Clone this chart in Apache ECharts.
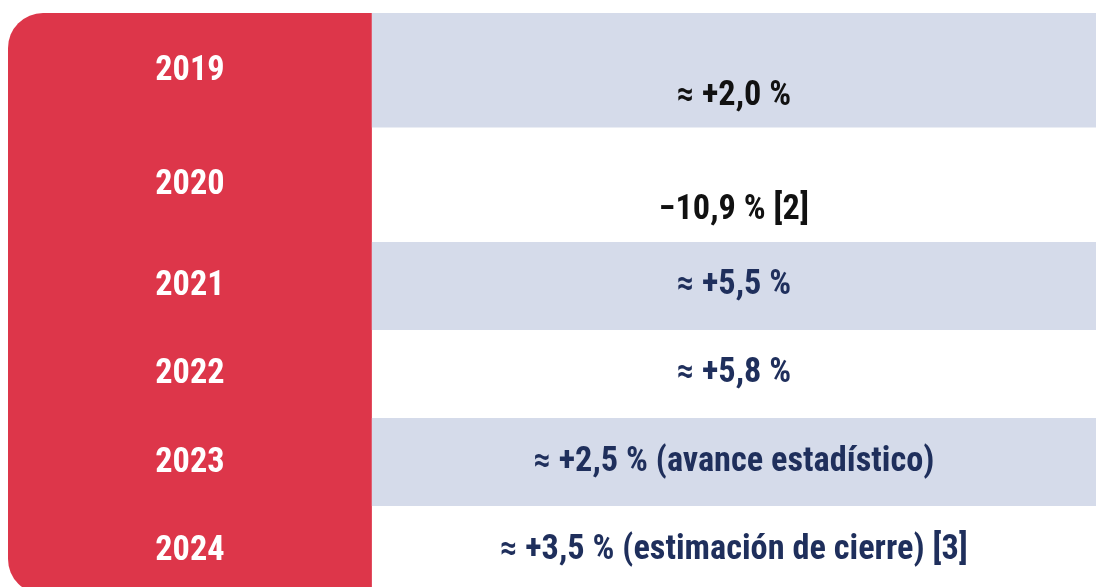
<!DOCTYPE html>
<html lang="es">
<head>
<meta charset="UTF-8">
<title>Crecimiento anual</title>
<script src="https://cdn.jsdelivr.net/npm/echarts@6/dist/echarts.min.js"></script>
<style>
  html, body { margin: 0; padding: 0; background: #fff; }
  #main { width: 1096px; height: 587px; }
</style>
</head>
<body>
<div id="main"></div>
<script>
// datos
var years = ['2019', '2020', '2021', '2022', '2023', '2024'];
var growth = [2.0, -10.9, 5.5, 5.8, 2.5, 3.5];
var approx = [true, false, true, true, true, true];
var notes = ['', '[2]', '', '', '(avance estadístico)', '(estimación de cierre) [3]'];

// layout / estilo
var rowWeight = [1.3, 1.3, 1, 1, 1, 1];
var valueShift = [26, 26, 0, 0, 0, 0];
var valueColor = ['#111111', '#111111', '#1f2f5c', '#1f2f5c', '#1f2f5c', '#1f2f5c'];
var FONT = "bold 34.3px 'Roboto Condensed', 'Liberation Sans Narrow', 'Arial Narrow', Roboto, sans-serif";

function fmt(i) {
  var v = growth[i];
  var s = (v < 0 ? '\u2212' : '+') + Math.abs(v).toFixed(1).replace('.', ',') + ' %';
  if (approx[i]) s = '\u2248 ' + s;
  if (notes[i]) s += ' ' + notes[i];
  return s;
}

var rows = [];
var acc = 0;
for (var i = 0; i < years.length; i++) {
  rows.push([i, acc, acc + rowWeight[i]]);
  acc += rowWeight[i];
}
var total = acc;

var chart = echarts.init(document.getElementById('main'));

chart.setOption({
  animation: false,
  // la ultima fila queda cortada por el borde inferior
  grid: { left: 8, right: 0, top: 13, height: 581, outerBoundsMode: 'none' },
  xAxis: { type: 'value', min: 0, max: 2.99, show: false },
  yAxis: { type: 'value', min: 0, max: total, inverse: true, show: false },
  series: [
    {
      // panel rojo de los años
      type: 'custom',
      z: 1,
      data: [[0, 0, total]],
      renderItem: function (params, api) {
        var p0 = api.coord([0, api.value(1)]);
        var p1 = api.coord([1, api.value(2)]);
        return {
          type: 'rect',
          shape: { x: p0[0], y: p0[1], width: p1[0] - p0[0], height: p1[1] - p0[1], r: [35, 0, 0, 35] },
          style: { fill: '#dd364a' }
        };
      }
    },
    {
      type: 'custom',
      z: 2,
      data: rows,
      renderItem: function (params, api) {
        var i = api.value(0);
        var a = api.coord([0, api.value(1)]);
        var b = api.coord([1, api.value(2)]);
        var c = api.coord([2.99, api.value(2)]);
        var yMid = (a[1] + b[1]) / 2;
        var kids = [];
        if (i % 2 === 0) {
          kids.push({
            type: 'rect',
            shape: { x: b[0], y: a[1], width: c[0] - b[0], height: b[1] - a[1] },
            style: { fill: '#d5dbea' }
          });
        }
        kids.push({
          type: 'text',
          style: {
            x: (a[0] + b[0]) / 2, y: yMid + 1,
            text: years[i], fill: '#ffffff', font: FONT,
            align: 'center', verticalAlign: 'middle'
          }
        });
        kids.push({
          type: 'text',
          style: {
            x: (b[0] + c[0]) / 2, y: yMid + valueShift[i],
            text: fmt(i), fill: valueColor[i], font: FONT,
            align: 'center', verticalAlign: 'middle'
          }
        });
        return { type: 'group', children: kids };
      }
    }
  ]
});
</script>
</body>
</html>
